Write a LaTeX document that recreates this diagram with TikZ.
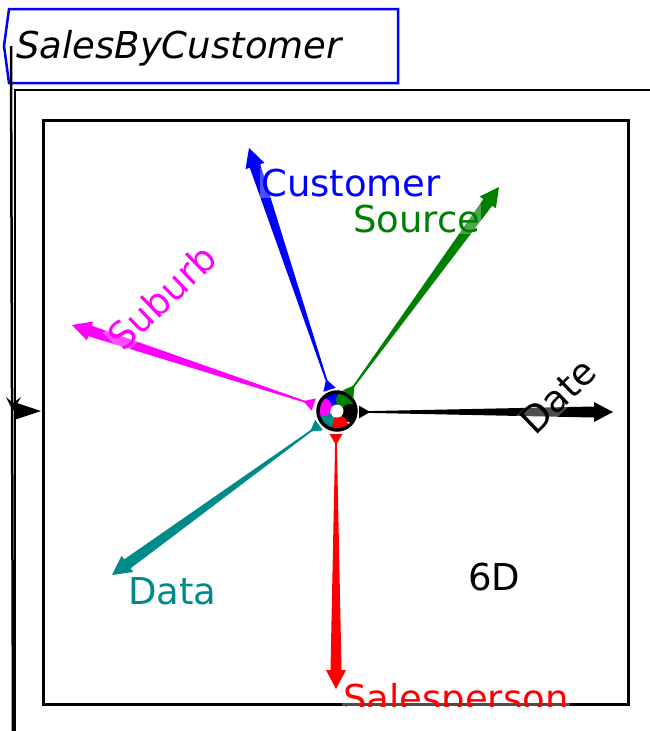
\documentclass[tikz,border=0pt]{standalone}
\usepackage{fontspec}
\setmainfont{DejaVu Sans}
\usetikzlibrary{calc}
\definecolor{cblue}{RGB}{0,0,255}
\definecolor{cgreen}{RGB}{0,128,0}
\definecolor{cmag}{RGB}{255,0,255}
\definecolor{cteal}{RGB}{0,139,139}
\definecolor{cred}{RGB}{255,0,0}
\tikzset{
  lbl/.style={fill=white,fill opacity=0.3,text opacity=1,inner sep=1pt,font=\fontsize{37}{40}\selectfont},
  frameline/.style={line width=2.5pt,black},
}
\newcommand\tapconn[4]{% #1 start, #2 tip, #3 colour, #4 id
  \coordinate (#4h) at ($(#2)!19pt!(#1)$);
  \coordinate (#4b) at ($(#1)!-5pt!(#2)$);
  \fill[#3] ($(#1)!0.8pt!90:(#2)$) -- ($(#4h)!5.5pt!90:(#2)$) -- ($(#4h)!10pt!90:(#2)$) -- (#2)
     -- ($(#4h)!10pt!-90:(#2)$) -- ($(#4h)!5.5pt!-90:(#2)$) -- ($(#1)!0.8pt!-90:(#2)$) -- cycle;
  \fill[#3] ($(#1)!6pt!(#2)$) -- ($(#4b)!6.5pt!90:(#2)$) -- ($(#4b)!6.5pt!-90:(#2)$) -- cycle;
}
\begin{document}
\begin{tikzpicture}[x=1pt,y=-1pt]
\useasboundingbox[fill=white] (0,0) rectangle (650,731);
% title box
\draw[cblue,line width=2.5pt] (9,9) -- (398,9) -- (398,83) -- (9,83) -- (4,46) -- cycle;
\node[anchor=base west,inner sep=0pt,font=\fontsize{37}{40}\selectfont\itshape] (title) at (16,58) {SalesByCustomer};
% outer frame
\coordinate (lt) at (11,46);
\coordinate (lb) at (13,731);
\draw[frameline] (lt) -- (lb);
\draw[frameline] (15,731) -- (15,90) -- (650,90);
\fill (14,402) -- (41,411) -- (14,420) -- cycle;
\fill (6,397) -- (13,411) -- (21,397) -- (13,403) -- cycle;
% inner box
\draw[line width=3pt] (43,120) rectangle (628,704);
% centre
\coordinate (C) at (337,411);
\begin{scope}
  \clip (C) circle[radius=19pt];
  \fill[cblue] ($(C)+(-4,-13)$) circle[radius=9pt];
  \fill[cgreen] ($(C)+(8,-11)$) circle[radius=9pt];
  \fill[black] ($(C)+(13,2)$) circle[radius=9pt];
  \fill[cred] ($(C)+(2,14)$) circle[radius=9pt];
  \fill[cteal] ($(C)+(-12,9)$) circle[radius=9pt];
  \fill[cmag] ($(C)+(-14,-4)$) circle[radius=9pt];
  \fill[white] (C) circle[radius=6.5pt];
\end{scope}
\draw[line width=3.5pt] (C) circle[radius=19pt];
% connector ends
\coordinate (sCu) at (328,385);  \coordinate (tCu) at (249,148);
\coordinate (sSo) at (351,390);  \coordinate (tSo) at (499,187);
\coordinate (sDa) at (364,412);  \coordinate (tDa) at (613,412);
\coordinate (sSa) at (336,439);  \coordinate (tSa) at (336,689);
\coordinate (sDt) at (315,428);  \coordinate (tDt) at (112,575);
\coordinate (sSu) at (309,403);  \coordinate (tSu) at (72,325);
\tapconn{sCu}{tCu}{cblue}{cu}
\tapconn{sSo}{tSo}{cgreen}{so}
\tapconn{sDa}{tDa}{black}{da}
\tapconn{sSa}{tSa}{cred}{sa}
\tapconn{sDt}{tDt}{cteal}{dt}
\tapconn{sSu}{tSu}{cmag}{su}
% labels
\node[lbl,anchor=base west,text=cblue] (lCu) at (260,196) {Customer};
\node[lbl,anchor=base west,text=cgreen] (lSo) at (352,232) {Source};
\node[lbl,text=cmag,rotate=44] (lSu) at (162,297) {Suburb};
\node[lbl,text=black,rotate=44] (lDa) at (558,396) {Date};
\node[lbl,anchor=base west,text=cteal] (lDt) at (127,604) {Data};
\node[anchor=base west,inner sep=0pt,font=\fontsize{37}{40}\selectfont] (six) at (468,590) {6D};
\begin{scope}
  \clip (43,120) rectangle (628,706);
  \node[lbl,anchor=base west,text=cred] (lSa) at (342,711) {Salesperson};
\end{scope}
\end{tikzpicture}
\end{document}
